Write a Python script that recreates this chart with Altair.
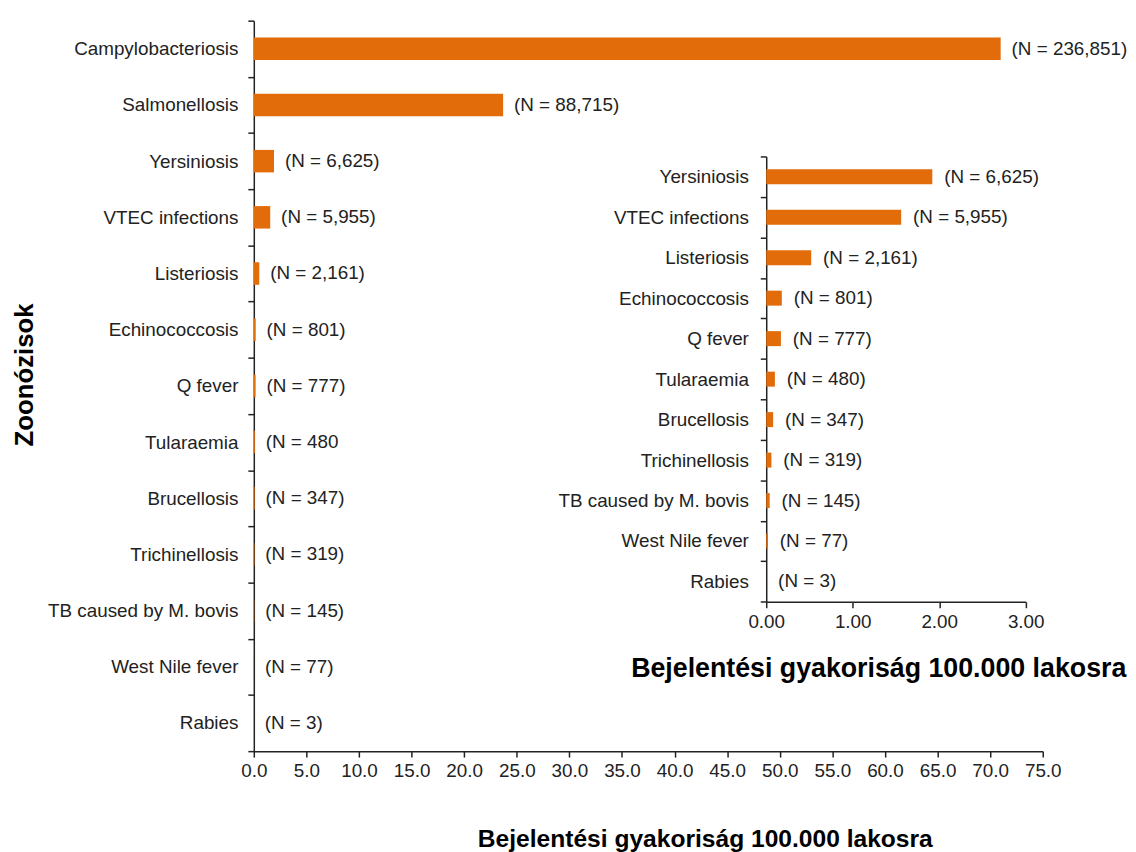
import altair as alt
import pandas as pd

diseases = ["Campylobacteriosis", "Salmonellosis", "Yersiniosis", "VTEC infections",
            "Listeriosis", "Echinococcosis", "Q fever", "Tularaemia", "Brucellosis",
            "Trichinellosis", "TB caused by M. bovis", "West Nile fever", "Rabies"]
rates = [71.0, 23.7, 1.92, 1.56, 0.52, 0.18, 0.17, 0.10, 0.08, 0.06, 0.04, 0.02, 0.0]
main_labels = ["(N = 236,851)", "(N = 88,715)", "(N = 6,625)", "(N = 5,955)", "(N = 2,161)",
               "(N = 801)", "(N = 777)", "(N = 480", "(N = 347)", "(N = 319)",
               "(N = 145)", "(N = 77)", "(N = 3)"]
inset_labels = ["(N = 6,625)", "(N = 5,955)", "(N = 2,161)", "(N = 801)", "(N = 777)",
                "(N = 480)", "(N = 347)", "(N = 319)", "(N = 145)", "(N = 77)", "(N = 3)"]
main_ticks = [0, 5, 10, 15, 20, 25, 30, 35, 40, 45, 50, 55, 60, 65, 70, 75]
inset_ticks = [0, 1, 2, 3]
x_title = "Bejelentési gyakoriság 100.000 lakosra"
y_title = "Zoonózisok"

main_df = pd.DataFrame({"disease": diseases, "rate": rates, "label": main_labels})
inset_df = pd.DataFrame({"disease": diseases[2:], "rate": rates[2:], "label": inset_labels})

W, H = 796, 737
BAR = "#E26B0A"
INK = "#222222"
FONT = "Liberation Sans"

main_x = alt.X("rate:Q",
               scale=alt.Scale(domain=[0, 75], nice=False, zero=True),
               axis=alt.Axis(orient="bottom", values=main_ticks, format=".1f", grid=False,
                             labelOverlap=False, labelFlush=False,
                             title=x_title, titleFontSize=24.8, titleFontWeight="bold",
                             titleColor="black", titleX=455, titlePadding=46,
                             labelFontSize=19, labelColor=INK, labelPadding=5,
                             tickSize=6, tickColor=INK, tickWidth=1.5,
                             domainColor=INK, domainWidth=1.5))
main_y = alt.Y("disease:N", sort=diseases,
               scale=alt.Scale(domain=diseases, paddingInner=0, paddingOuter=0),
               axis=alt.Axis(orient="left", tickBand="extent", title=y_title,
                             titleFontSize=26, titleFontWeight="bold", titleColor="black",
                             titlePadding=18.5, titleY=357, labelLimit=0,
                             labelFontSize=19, labelColor=INK, labelPadding=10,
                             tickSize=6, tickColor=INK, tickWidth=1.5,
                             domainColor=INK, domainWidth=1.5))

main_bars = alt.Chart(main_df).mark_bar(color=BAR, height=alt.RelativeBandSize(0.4)).encode(
    x=main_x, y=main_y)
main_text = alt.Chart(main_df).mark_text(align="left", baseline="middle", dx=11,
                                         fontSize=19, color=INK, font=FONT).encode(
    x="rate:Q", y=alt.Y("disease:N", sort=diseases), text="label:N")

inset_names = diseases[2:]
inset_x = alt.X("rate:Q",
                scale=alt.Scale(domain=[0, 3], range=[517, 778.8], nice=False, zero=True),
                axis=alt.Axis(orient="bottom", offset=-150.7, values=inset_ticks, format=".2f",
                              grid=False, labelOverlap=False, labelFlush=False,
                              title=x_title, titleFontSize=27,
                              titleFontWeight="bold", titleColor="black", titleX=630,
                              titlePadding=24, labelFontSize=19, labelColor=INK,
                              labelPadding=5, tickSize=6, tickColor=INK, tickWidth=1.5,
                              domainColor=INK, domainWidth=1.5))
inset_y = alt.Y("disease:N", sort=inset_names,
                scale=alt.Scale(domain=inset_names, range=[137, 586.3],
                                paddingInner=0, paddingOuter=0),
                axis=alt.Axis(orient="left", offset=-517, tickBand="extent", title=None,
                              labelLimit=0,
                              labelFontSize=19, labelColor=INK, labelPadding=12,
                              tickSize=6, tickColor=INK, tickWidth=1.5,
                              domainColor=INK, domainWidth=1.5))

inset_bars = alt.Chart(inset_df).mark_bar(color=BAR, height=alt.RelativeBandSize(0.37)).encode(
    x=inset_x, y=inset_y)
inset_text = alt.Chart(inset_df).mark_text(align="left", baseline="middle", dx=12,
                                           fontSize=19, color=INK, font=FONT).encode(
    x="rate:Q", y=alt.Y("disease:N", sort=inset_names), text="label:N")

chart = alt.layer(
    alt.layer(main_bars, main_text),
    alt.layer(inset_bars, inset_text),
).resolve_scale(x="independent", y="independent").resolve_axis(
    x="independent", y="independent"
).properties(
    width=W, height=H, padding={"left": 3, "top": 0, "right": 0, "bottom": 0},
    background="white"
).configure(font=FONT).configure_view(stroke=None)

chart.save("out.html", embed_options={"renderer": "svg", "actions": False})
